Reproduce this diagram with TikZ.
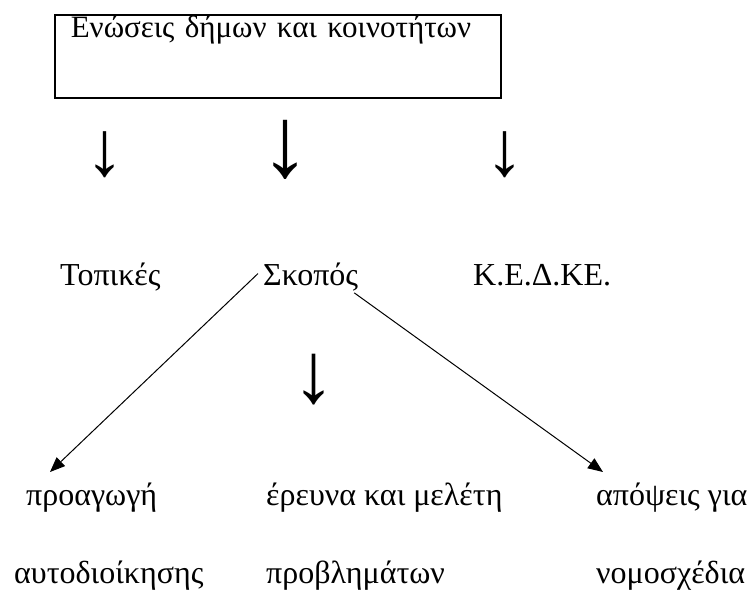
\documentclass[tikz,border=0pt]{standalone}
\usepackage{fontspec}
\setmainfont{Liberation Serif}
\usetikzlibrary{arrows.meta}
\tikzset{
	lbl/.style={inner sep=0pt, anchor=base west, font=\fontsize{32}{34}\selectfont},
	dnarrow/.style={inner sep=0pt, font=\fontsize{#1}{#1}\selectfont},
	pointer/.style={line width=1pt, -{Triangle[length=15pt,width=12pt]}}
}
\begin{document}
\begin{tikzpicture}[x=1pt,y=-1pt]
	\useasboundingbox (0,0) rectangle (748,590);
	\node [draw, line width=1.6pt, anchor=north west, inner xsep=16pt, inner ysep=0pt,
		text width=414pt, align=left, text height=23pt, text depth=60pt,
		font=\fontsize{31}{33}\selectfont] (enoseis) at (54,14) {Ενώσεις δήμων και κοινοτήτων};
	%\draw [thick] (54,14) rectangle (500,97);
	\node [dnarrow=78] (dn1) at (105,155) {↓};
	\node [dnarrow=100] (dn2) at (285,150) {↓};
	\node [dnarrow=78] (dn3) at (505,155) {↓};
	\node [lbl] (topikes) at (60,285) {Τοπικές};
	\node [lbl] (skopos) at (263,285) {Σκοπός};
	\node [lbl] (kedke) at (473,285) {Κ.Ε.Δ.ΚΕ.};
	\node [dnarrow=86] (dn4) at (314,380) {↓};
	\node [lbl] (proagogi) at (26,505) {προαγωγή};
	\node [lbl] (erevna) at (266,505) {έρευνα και μελέτη};
	\node [lbl] (apopseis) at (596,505) {απόψεις για};
	\node [lbl] (aftodioikisis) at (14,583) {αυτοδιοίκησης};
	\node [lbl] (provlimaton) at (266,583) {προβλημάτων};
	\node [lbl] (nomoschedia) at (596,583) {νομοσχέδια};
	\coordinate (tipL) at (50,472);
	\coordinate (tipR) at (603,472);
	\draw [pointer] ([xshift=-5pt,yshift=3pt]skopos.west) -- (tipL);
	\draw [pointer] ([xshift=-4pt,yshift=-2pt]skopos.south east) -- (tipR);
\end{tikzpicture}
\end{document}
